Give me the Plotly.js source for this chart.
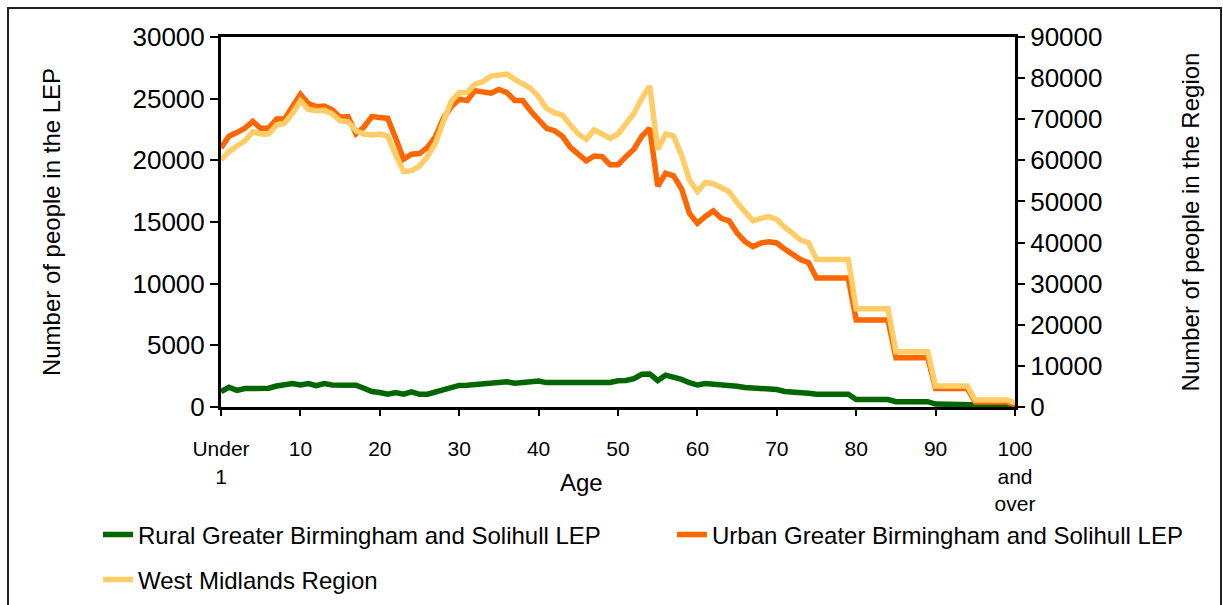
<!DOCTYPE html>
<html>
<head>
<meta charset="utf-8">
<script src="https://cdn.plot.ly/plotly-3.0.1.min.js"></script>
<style>
html,body{margin:0;padding:0;background:#fff;}
#chart{width:1223px;height:605px;}
</style>
</head>
<body>
<div id="chart"></div>
<script>
// Ages 0 ("Under 1") to 100 ("100 and over")
const ages = Array.from({length: 101}, (_, i) => i);

const tickValues = [0, 10, 20, 30, 40, 50, 60, 70, 80, 90, 100];
const tickLabels = ["Under<br>1", "10", "20", "30", "40", "50", "60", "70", "80", "90", "100<br>and<br>over"];

const rural = [
  1250, 1600, 1350, 1500, 1500, 1500, 1520, 1700, 1780, 1900,
  1780, 1900, 1730, 1900, 1780, 1780, 1780, 1760, 1520, 1250,
  1180, 1040, 1180, 1040, 1230, 1030, 1040, 1230, 1420, 1650,
  1750, 1760, 1800, 1900, 1920, 1960, 2050, 1920, 1960, 2100,
  2100, 1980, 1970, 1970, 1970, 1970, 1970, 1970, 1970, 1990,
  2120, 2150, 2300, 2650, 2680, 2150, 2580, 2450, 2240, 1970,
  1780, 1900, 1860, 1760, 1720, 1680, 1580, 1560, 1560, 1440,
  1420, 1260, 1240, 1230, 1120, 1030, 1030, 1030, 1030, 1030,
  610, 610, 610, 610, 610, 430, 430, 430, 430, 430,
  240, 240, 240, 240, 240, 130, 130, 130, 130, 130,
  110
];

const urban = [
  21000, 21950, 22250, 22600, 23150, 22600, 22600, 23350, 23350, 24350,
  25350, 24600, 24350, 24400, 24100, 23500, 23550, 22150, 22700, 23550,
  23450, 23400, 21800, 20100, 20500, 20550, 21050, 21900, 23400, 24350,
  24950, 24850, 25650, 25600, 25450, 25750, 25500, 24850, 24850, 24000,
  23300, 22600, 22400, 21950, 21050, 20500, 19950, 20350, 20300, 19650,
  19650, 20300, 20900, 21950, 22600, 17900, 18950, 18750, 17700, 15700,
  14900, 15450, 15900, 15300, 15100, 14100, 13400, 13000, 13300, 13400,
  13300, 12800, 12400, 11950, 11700, 10450, 10450, 10450, 10450, 10450,
  7050, 7050, 7050, 7050, 7050, 4000, 4000, 4000, 4000, 4000,
  1500, 1500, 1500, 1500, 1500, 400, 400, 400, 400, 400,
  200
];

const region = [
  60100, 62100, 63500, 64700, 66950, 66400, 66400, 68600, 69000, 71400,
  74500, 72400, 72050, 72200, 71300, 69600, 69400, 67200, 66400, 66150,
  66400, 65900, 61300, 57250, 57500, 58600, 60900, 64150, 69400, 74300,
  76500, 76500, 78550, 79150, 80500, 80600, 81000, 79700, 78700, 77500,
  75500, 72600, 71600, 71000, 68600, 66400, 65100, 67400, 66400, 65350,
  66400, 68850, 71400, 75100, 78100, 62650, 66400, 65900, 61300, 55200,
  52400, 54600, 54300, 53400, 52400, 49700, 47500, 45300, 45900, 46300,
  45650, 43700, 42250, 40600, 39950, 35900, 35900, 35900, 35900, 35900,
  23900, 23900, 23900, 23900, 23900, 13450, 13450, 13450, 13450, 13450,
  5100, 5100, 5100, 5100, 5100, 1700, 1700, 1700, 1700, 1700,
  1000
];

const seriesNames = [
  "Rural Greater Birmingham and Solihull LEP",
  "Urban Greater Birmingham and Solihull LEP",
  "West Midlands Region"
];

const FONT = "Liberation Sans, Arial, sans-serif";
const fs = 24;

const traces = [
  {x: ages, y: rural, name: seriesNames[0], type: "scatter", mode: "lines",
   line: {color: "#006600", width: 5.5}, yaxis: "y", legend: "legend"},
  {x: ages, y: urban, name: seriesNames[1], type: "scatter", mode: "lines",
   line: {color: "#FF6600", width: 5.5}, yaxis: "y", legend: "legend3"},
  {x: ages, y: region, name: seriesNames[2], type: "scatter", mode: "lines",
   line: {color: "#FFCC66", width: 5.5}, yaxis: "y2", legend: "legend2"}
];

// plot area in pixels: left 221, right 1015, top 37, bottom 407
const L = 221, R = 1015, T = 37, B = 407;
const px2x = p => (p - L) / (R - L);
const px2y = p => (B - p) / (B - T);

const legendFont = {family: FONT, size: fs, color: "#000"};

const layout = {
  width: 1223, height: 605,
  margin: {l: L, r: 1223 - R, t: T, b: 605 - B, pad: 0, autoexpand: false},
  paper_bgcolor: "#fff", plot_bgcolor: "#fff",
  font: {family: FONT, size: fs, color: "#000"},
  showlegend: true,
  xaxis: {
    range: [0, 100], tickmode: "array", tickvals: tickValues, ticktext: tickLabels,
    ticks: "outside", ticklen: 6, tickwidth: 2, tickcolor: "#000",
    showline: true, linewidth: 3, linecolor: "#000", mirror: true,
    showgrid: false, zeroline: false, ticklabelstandoff: 15,
    tickfont: {family: FONT, size: 21, color: "#000"}
  },
  yaxis: {
    range: [0, 30000], dtick: 5000, tick0: 0, tickformat: "d",
    ticks: "outside", ticklen: 8, tickwidth: 2, tickcolor: "#000",
    showline: true, linewidth: 3, linecolor: "#000",
    showgrid: false, zeroline: false,
    tickfont: {family: FONT, size: 26, color: "#000"},
    title: {text: "Number of people in the LEP", standoff: 66,
            font: {family: FONT, size: fs, color: "#000"}}
  },
  yaxis2: {
    range: [0, 90000], dtick: 10000, tick0: 0, tickformat: "d",
    overlaying: "y", side: "right",
    ticks: "outside", ticklen: 7, tickwidth: 2, tickcolor: "#000",
    showline: true, linewidth: 3, linecolor: "#000",
    showgrid: false, zeroline: false,
    tickfont: {family: FONT, size: 26, color: "#000"},
    title: {text: "Number of people in the Region", standoff: 81,
            font: {family: FONT, size: fs, color: "#000"}}
  },
  yaxis3: {
    range: [0, 90000], dtick: 10000, tick0: 0,
    overlaying: "y", side: "right", anchor: "x",
    ticks: "inside", ticklen: 7, tickwidth: 2, tickcolor: "#000",
    showticklabels: false, showline: false, showgrid: false, zeroline: false
  },
  legend: {
    orientation: "h", x: px2x(98), y: px2y(535), xanchor: "left", yanchor: "middle",
    font: legendFont, bgcolor: "rgba(0,0,0,0)"
  },
  legend3: {
    orientation: "h", x: px2x(672), y: px2y(535), xanchor: "left", yanchor: "middle",
    font: legendFont, bgcolor: "rgba(0,0,0,0)"
  },
  legend2: {
    orientation: "h", x: px2x(98), y: px2y(580), xanchor: "left", yanchor: "middle",
    font: legendFont, bgcolor: "rgba(0,0,0,0)"
  },
  annotations: [
    {text: "Age", xref: "paper", yref: "paper", x: px2x(581), y: px2y(482),
     xanchor: "center", yanchor: "middle", showarrow: false,
     font: {family: FONT, size: fs, color: "#000"}}
  ],
  shapes: [
    {type: "rect", xref: "paper", yref: "paper",
     x0: px2x(8), x1: px2x(1221), y0: px2y(620), y1: px2y(8),
     line: {color: "#222", width: 2}, fillcolor: "rgba(0,0,0,0)", layer: "below"}
  ]
};

Plotly.newPlot("chart", traces, layout, {displayModeBar: false, staticPlot: true});
</script>
</body>
</html>
